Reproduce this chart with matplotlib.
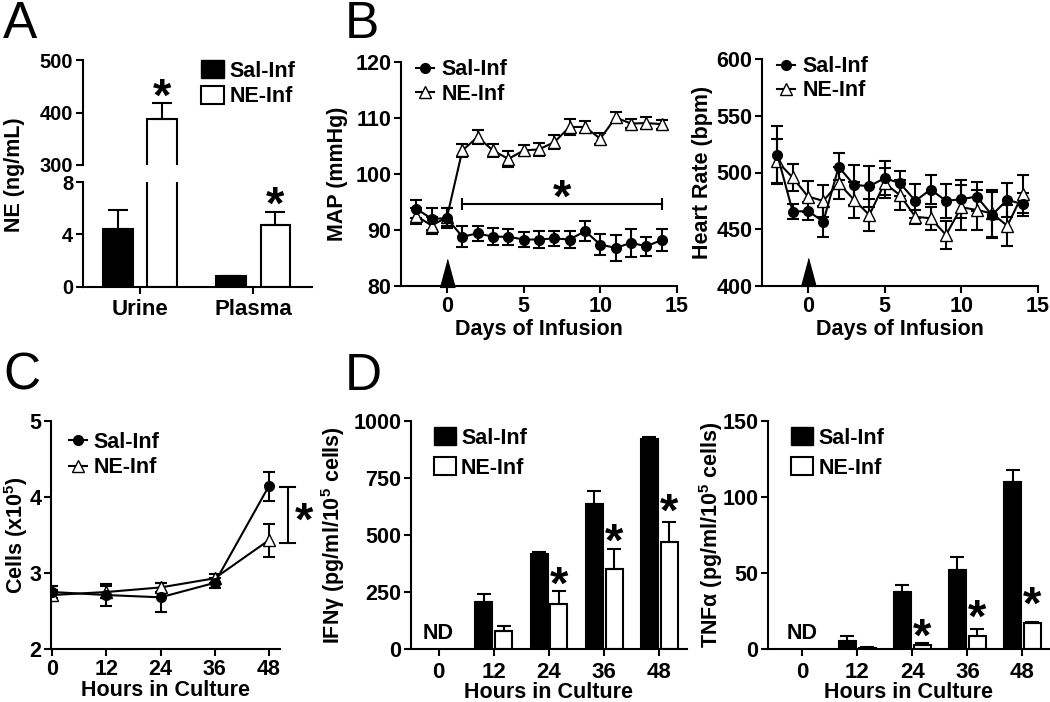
import numpy as np
import matplotlib.pyplot as plt
from matplotlib.patches import Patch
from matplotlib.lines import Line2D

plt.rcParams['font.family'] = ['Liberation Sans', 'DejaVu Sans']
plt.rcParams['font.weight'] = 'bold'
plt.rcParams['axes.labelweight'] = 'bold'
plt.rcParams['font.size'] = 15.5
plt.rcParams['axes.linewidth'] = 1.5
plt.rcParams['xtick.major.width'] = 1.5
plt.rcParams['ytick.major.width'] = 1.5
plt.rcParams['xtick.major.size'] = 5
plt.rcParams['ytick.major.size'] = 5
plt.rcParams['mathtext.fontset'] = 'custom'
plt.rcParams['mathtext.rm'] = 'Liberation Sans:bold'
plt.rcParams['mathtext.bf'] = 'Liberation Sans:bold'
plt.rcParams['mathtext.default'] = 'bf'

# ---- data ----
# A: NE levels
ne_groups = ['Urine', 'Plasma']
ne_sal = [4.4, 0.8]
ne_sal_err = [1.5, 0.06]
ne_inf = [388, 4.7]
ne_inf_err = [30, 1.0]

# B: telemetry
days = list(range(-2, 15))
map_sal = [93.8, 92.0, 92.1, 88.8, 89.4, 88.8, 88.8, 88.3, 88.3, 88.5, 88.3, 89.8, 87.4, 86.8, 87.7, 87.1, 88.2]
map_sal_err = [1.6, 2.0, 1.8, 1.9, 1.4, 1.5, 1.4, 1.3, 1.6, 1.4, 1.6, 1.8, 1.8, 2.3, 2.5, 1.7, 2.0]
map_ne = [92.5, 90.8, 92.3, 104.2, 106.6, 104.2, 102.7, 104.2, 104.4, 105.7, 108.4, 108.4, 106.3, 110.1, 109.0, 109.1, 108.9]
map_ne_err = [1.5, 1.5, 1.6, 1.2, 1.2, 1.2, 1.4, 1.0, 1.2, 1.2, 1.5, 1.0, 1.0, 1.0, 0.8, 1.0, 0.8]
hr_sal = [515.6, 465.6, 466.0, 456.8, 505.0, 489.0, 488.0, 495.0, 490.6, 475.0, 485.0, 475.0, 476.5, 478.8, 462.6, 476.0, 472.0]
hr_sal_err = [25, 7, 8, 14, 12, 18, 18, 15, 11, 15, 13, 15, 17, 13, 20, 15, 10]
hr_ne = [509.7, 495.6, 478.8, 475.0, 490.6, 476.0, 462.6, 490.6, 480.0, 461.0, 459.7, 445.0, 469.4, 467.0, 464.0, 453.0, 481.0]
hr_ne_err = [20, 12, 14, 14, 14, 16, 14, 13, 13, 6, 10, 12, 20, 18, 21, 18, 17]

# C: cell counts
hours = [0, 12, 24, 36, 48]
cells_sal = [2.75, 2.71, 2.68, 2.87, 4.14]
cells_sal_err = [0.08, 0.14, 0.19, 0.07, 0.19]
cells_ne = [2.71, 2.75, 2.81, 2.93, 3.43]
cells_ne_err = [0.06, 0.08, 0.06, 0.06, 0.22]

# D: cytokines
hour_labels = ['0', '12', '24', '36', '48']
ifn_sal = [0, 206, 416, 635, 920]
ifn_sal_err = [0, 35, 9, 58, 11]
ifn_ne = [0, 80, 199, 352, 469]
ifn_ne_err = [0, 19, 56, 86, 86]
tnf_sal = [0, 5.5, 37.4, 52, 109.7]
tnf_sal_err = [0, 2.8, 5, 8.5, 8]
tnf_ne = [0, 0.7, 2.8, 8.8, 17]
tnf_ne_err = [0, 0.3, 1.2, 4.3, 0.5]

W, H = 1050, 702
fig = plt.figure(figsize=(W / 100, H / 100), dpi=100)


def add_ax(l, t, r, b):
    ax = fig.add_axes([l / W, 1 - b / H, (r - l) / W, (b - t) / H])
    ax.spines['top'].set_visible(False)
    ax.spines['right'].set_visible(False)
    ax.tick_params(direction='out', labelsize=15.5, pad=2)
    return ax


lw = 1.5
FS = 15.5
star_kw = dict(ha='center', va='center', fontsize=34, fontweight='bold')

# ---------- Panel A ----------
ax_at = add_ax(83, 60, 312, 165)
ax_ab = add_ax(83, 182, 312, 287)
xa = np.arange(len(ne_groups))
bw = 0.26
off = 0.195
for ax in (ax_at, ax_ab):
    ax.bar(xa - off, ne_sal, bw, color='k', edgecolor='k', lw=lw,
           yerr=[[0, 0], ne_sal_err], error_kw=dict(lw=lw, capsize=7, capthick=lw))
    ax.bar(xa + off, ne_inf, bw, color='white', edgecolor='k', lw=lw,
           yerr=[[0, 0], ne_inf_err], error_kw=dict(lw=lw, capsize=7, capthick=lw))
    ax.set_xlim(-0.504, 1.52)
    ax.tick_params(axis='y', labelsize=14.5)
ax_at.set_ylim(300, 500)
ax_at.set_yticks([300, 400, 500])
ax_at.spines['bottom'].set_visible(False)
ax_at.set_xticks([])
ax_ab.set_ylim(0, 8)
ax_ab.set_yticks([0, 4, 8])
ax_ab.set_xticks(xa)
ax_ab.set_xticklabels(ne_groups)
ax_ab.tick_params(axis='x', labelsize=16, pad=4)
ax_at.text(xa[0] + off, 426, '*', **star_kw)
ax_ab.text(xa[1] + off, 6.1, '*', **star_kw)
fig.text(15 / W, 1 - 175 / H, 'NE (ng/mL)', rotation=90, ha='center', va='center',
         fontsize=FS, fontweight='bold')
ax_at.legend([Patch(facecolor='k', edgecolor='k'), Patch(facecolor='white', edgecolor='k', lw=lw)],
             ['Sal-Inf', 'NE-Inf'], loc='upper left', bbox_to_anchor=(0.47, 1.1),
             frameon=False, handlelength=1.05, handleheight=0.9, handletextpad=0.25,
             labelspacing=0.2, borderpad=0, fontsize=FS)

# ---------- Panel B ----------
line_sal = dict(fmt='-o', color='k', mfc='k', mec='k', ms=7, lw=lw, elinewidth=lw,
                capsize=4.5, capthick=lw)
line_ne = dict(fmt='-^', color='k', mfc='white', mec='k', ms=8, lw=lw, elinewidth=lw,
               capsize=4.5, capthick=lw)
arrow_marker = [(-0.27, -0.5), (0.27, -0.5), (0, 0.5)]

ax_map = add_ax(401, 62, 677, 286)
ax_map.errorbar(days, map_ne, yerr=map_ne_err, **line_ne)
ax_map.errorbar(days, map_sal, yerr=map_sal_err, **line_sal)
ax_map.set_xlim(-3, 15)
ax_map.set_ylim(80, 120)
ax_map.set_xticks([0, 5, 10, 15])
ax_map.set_yticks([80, 90, 100, 110, 120])
ax_map.set_ylabel('MAP (mmHg)', fontsize=FS)
ax_map.yaxis.set_label_coords((348 - 401) / 276, 0.5)
ax_map.set_xlabel('Days of Infusion', fontsize=FS, labelpad=2)
ax_map.plot(0, 82.3, marker=arrow_marker, ms=20, color='k', clip_on=False)
ax_map.plot([1, 14], [94.6, 94.6], color='k', lw=lw)
ax_map.plot([1, 14], [94.6, 94.6], ls='none', marker='|', ms=9, mew=lw, color='k')
ax_map.text(7.5, 95.4, '*', **star_kw)

ax_hr = add_ax(762, 59, 1038, 286)
ax_hr.errorbar(days, hr_ne, yerr=hr_ne_err, **line_ne)
ax_hr.errorbar(days, hr_sal, yerr=hr_sal_err, **line_sal)
ax_hr.set_xlim(-3, 15)
ax_hr.set_ylim(400, 600)
ax_hr.set_xticks([0, 5, 10, 15])
ax_hr.set_yticks([400, 450, 500, 550, 600])
ax_hr.set_ylabel('Heart Rate (bpm)', fontsize=FS)
ax_hr.yaxis.set_label_coords((713 - 762) / 276, 0.5)
ax_hr.set_xlabel('Days of Infusion', fontsize=FS, labelpad=2)
ax_hr.plot(0, 412, marker=arrow_marker, ms=20, color='k', clip_on=False)

leg_handles = [Line2D([], [], color='k', marker='o', ms=7, lw=lw),
               Line2D([], [], color='k', marker='^', mfc='white', ms=8, lw=lw)]
for ax in (ax_map, ax_hr):
    ax.legend(leg_handles, ['Sal-Inf', 'NE-Inf'], loc='upper left', bbox_to_anchor=(0.015, 1.06),
              frameon=False, handlelength=0.85, handletextpad=0.35, labelspacing=0.15,
              borderpad=0, fontsize=FS, numpoints=1)

# ---------- Panel C ----------
ax_c = add_ax(51, 421, 280, 649)
ax_c.errorbar(hours, cells_ne, yerr=cells_ne_err, **line_ne)
ax_c.errorbar(hours, cells_sal, yerr=cells_sal_err, **line_sal)
ax_c.set_xlim(-0.3, 50.5)
ax_c.set_ylim(2, 5)
ax_c.set_xticks(hours)
ax_c.set_yticks([2, 3, 4, 5])
ax_c.set_ylabel('Cells (x10$^5$)', fontsize=FS)
ax_c.yaxis.set_label_coords((30 - 51) / 229, 0.5)
ax_c.set_xlabel('Hours in Culture', fontsize=FS, labelpad=0)
ax_c.plot([52.2, 52.2], [3.39, 4.13], color='k', lw=lw, clip_on=False)
ax_c.plot([50.5, 53.8], [4.13, 4.13], color='k', lw=lw, clip_on=False)
ax_c.plot([50.5, 53.8], [3.39, 3.39], color='k', lw=lw, clip_on=False)
ax_c.text(55.8, 3.66, '*', clip_on=False, **star_kw)
ax_c.legend(leg_handles, ['Sal-Inf', 'NE-Inf'], loc='upper left', bbox_to_anchor=(0.03, 1.0),
            frameon=False, handlelength=0.85, handletextpad=0.3, labelspacing=0.2,
            borderpad=0, fontsize=FS, numpoints=1)

# ---------- Panel D ----------
xd = np.arange(len(hour_labels))
dbw = 0.31
doff = 0.18


def cyto_panel(ax, sal, sal_err, ne, ne_err, ylim, yticks, ylabel, label_x, stars, nd_y):
    ax.bar(xd[1:] - doff, sal[1:], dbw, color='k', edgecolor='k', lw=lw,
           yerr=[[0] * 4, sal_err[1:]], error_kw=dict(lw=lw, capsize=5, capthick=lw))
    ax.bar(xd[1:] + doff, ne[1:], dbw, color='white', edgecolor='k', lw=lw,
           yerr=[[0] * 4, ne_err[1:]], error_kw=dict(lw=lw, capsize=5, capthick=lw))
    ax.set_ylim(*ylim)
    ax.set_yticks(yticks)
    ax.set_xticks(xd)
    ax.set_xticklabels(hour_labels)
    ax.tick_params(axis='x', labelsize=16, pad=4)
    ax.set_ylabel(ylabel, fontsize=FS)
    ax.yaxis.set_label_coords(label_x, 0.5)
    ax.set_xlabel('Hours in Culture', fontsize=FS, labelpad=0)
    for i, sy in stars:
        ax.text(xd[i] + doff, sy, '*', **star_kw)
    ax.text(0, nd_y, 'ND', ha='center', va='center', fontsize=FS, fontweight='bold')
    ax.legend([Patch(facecolor='k', edgecolor='k'), Patch(facecolor='white', edgecolor='k', lw=lw)],
              ['Sal-Inf', 'NE-Inf'], loc='upper left', bbox_to_anchor=(0.045, 1.02),
              frameon=False, handlelength=1.0, handleheight=0.9, handletextpad=0.25,
              labelspacing=0.4, borderpad=0, fontsize=FS)


ax_ifn = add_ax(411, 421, 687, 649)
ax_ifn.set_xlim(-0.5, 4.5)
cyto_panel(ax_ifn, ifn_sal, ifn_sal_err, ifn_ne, ifn_ne_err, (0, 1000), [0, 250, 500, 750, 1000],
           'IFNγ (pg/ml/10$^5$ cells)', (347 - 411) / 276,
           [(2, 275), (3, 462), (4, 592)], 70)

ax_tnf = add_ax(768, 421, 1050, 649)
ax_tnf.set_xlim(-0.62, 4.5)
cyto_panel(ax_tnf, tnf_sal, tnf_sal_err, tnf_ne, tnf_ne_err, (0, 150), [0, 50, 100, 150],
           'TNFα (pg/ml/10$^5$ cells)', (725 - 768) / 282,
           [(2, 6.5), (3, 19), (4, 27.5)], 10.5)

# panel letters
for lbl, px, py in [('A', 3, 0), ('B', 345, 0), ('C', 3, 352), ('D', 345, 352)]:
    fig.text(px / W, 1 - py / H, lbl, ha='left', va='top', fontsize=37, fontweight='normal')

fig.savefig('out.png', dpi=100)
